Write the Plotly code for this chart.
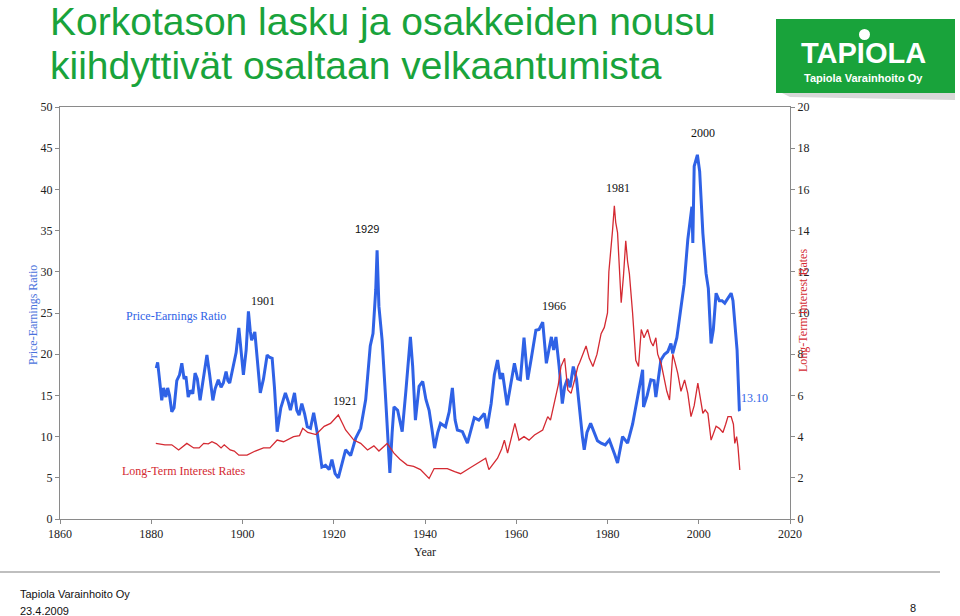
import plotly.graph_objects as go

# ---------------- data ----------------
PE_YEARS = [1881.1, 1881.4, 1881.8, 1882.3, 1882.7, 1883.2, 1883.6, 1884.0, 1884.5, 1885.0,
            1885.6, 1886.2, 1886.7, 1887.2, 1887.6, 1888.1, 1888.6, 1889.1, 1889.6, 1890.1,
            1890.7, 1891.2, 1891.7, 1892.2, 1892.8, 1893.5, 1894.0, 1894.7, 1895.3, 1895.8,
            1896.4, 1896.8, 1897.2, 1898.0, 1898.6, 1899.2, 1899.6, 1900.2, 1900.8, 1901.3,
            1901.7, 1902.0, 1902.7, 1903.3, 1903.9, 1904.6, 1905.4, 1906.0, 1906.5, 1907.0,
            1907.6, 1908.4, 1909.4, 1910.0, 1910.5, 1911.4, 1911.9, 1912.4, 1913.0, 1913.6,
            1914.2, 1914.9, 1915.6, 1916.4, 1917.0, 1917.4, 1918.2, 1919.0, 1919.6, 1920.3,
            1921.0, 1921.8, 1922.6, 1923.7, 1924.8, 1925.9, 1927.0, 1928.0, 1928.6, 1929.2,
            1929.5, 1929.9, 1930.6, 1931.3, 1931.8, 1932.3, 1932.8, 1933.2, 1934.0, 1935.0,
            1935.8, 1936.8, 1937.3, 1937.9, 1938.7, 1939.5, 1940.2, 1940.9, 1941.5, 1942.1,
            1942.8, 1943.4, 1944.5, 1945.3, 1946.0, 1946.6, 1947.1, 1948.2, 1949.3, 1950.0,
            1950.8, 1951.8, 1953.0, 1953.6, 1954.5, 1955.2, 1955.9, 1956.5, 1957.0, 1958.0,
            1958.8, 1959.6, 1960.3, 1960.9, 1961.7, 1962.5, 1963.3, 1964.3, 1965.0, 1965.8,
            1966.6, 1967.2, 1967.7, 1968.2, 1968.7, 1969.4, 1970.1, 1970.6, 1971.2, 1971.8,
            1972.5, 1973.2, 1973.8, 1974.5, 1974.9, 1975.5, 1976.3, 1977.0, 1977.8, 1978.6,
            1979.5, 1980.4, 1981.0, 1981.6, 1982.2, 1982.8, 1983.3, 1984.4, 1985.5, 1986.6,
            1987.3, 1987.7, 1987.9, 1988.7, 1989.5, 1990.2, 1990.6, 1991.2, 1991.7, 1992.5,
            1993.2, 1993.9, 1994.3, 1995.2, 1996.1, 1996.8, 1997.6, 1998.0, 1998.5, 1998.7,
            1999.0, 1999.7, 2000.2, 2000.9, 2001.6, 2002.1, 2002.7, 2003.2, 2003.8, 2004.5,
            2005.1, 2005.7, 2006.4, 2007.1, 2007.5, 2007.9, 2008.4, 2008.9, 2009.0]
PE_VALUES = [18.3, 19.0, 17.0, 14.4, 15.9, 14.8, 15.9, 15.0, 13.0, 13.5,
             16.8, 17.5, 18.9, 17.0, 17.3, 14.8, 15.6, 15.2, 17.7, 17.0,
             14.4, 16.2, 18.5, 19.9, 17.5, 14.4, 15.8, 16.9, 16.0, 16.5,
             17.9, 16.8, 16.5, 18.5, 20.2, 23.2, 21.0, 17.5, 20.5, 25.2,
             22.8, 21.7, 22.7, 18.5, 15.3, 17.0, 19.9, 19.6, 19.5, 16.0,
             10.6, 13.5, 15.3, 14.3, 13.2, 15.3, 13.2, 12.6, 14.0, 12.8,
             11.2, 11.0, 12.9, 10.4, 8.0, 6.3, 6.5, 6.0, 7.2, 5.5,
             5.0, 6.8, 8.4, 7.7, 9.8, 11.0, 14.5, 21.0, 22.5, 27.8,
             32.6, 25.8, 21.7, 15.3, 10.0, 5.6, 10.5, 13.6, 13.2, 10.6,
             15.5, 22.1, 18.5, 12.0, 16.1, 16.7, 14.5, 13.2, 11.0, 8.6,
             10.5, 11.6, 11.2, 13.0, 15.9, 12.0, 10.8, 10.6, 9.2, 10.6,
             12.3, 12.0, 12.8, 11.0, 14.0, 17.5, 19.3, 17.0, 17.7, 13.8,
             16.5, 18.9, 17.0, 16.9, 22.0, 16.9, 19.5, 22.9, 23.0, 23.9,
             18.9, 20.5, 22.1, 20.5, 22.1, 18.5, 14.0, 16.0, 17.0, 16.0,
             18.5, 17.0, 13.5, 10.0, 8.4, 10.5, 11.6, 10.5, 9.5, 9.2,
             9.0, 9.6, 8.8, 7.8, 6.8, 8.5, 10.0, 9.2, 11.5, 14.8,
             17.0, 18.1, 13.6, 15.0, 16.9, 16.8, 14.8, 17.0, 19.3, 20.0,
             20.3, 21.3, 20.1, 22.0, 25.8, 28.5, 33.9, 35.5, 37.9, 33.5,
             42.8, 44.2, 42.2, 34.7, 29.8, 28.0, 21.3, 23.0, 27.4, 26.5,
             26.5, 26.2, 26.8, 27.4, 26.5, 23.8, 20.5, 13.2, 13.1]

RATE_YEARS = [1881.0, 1883.0, 1884.5, 1886.0, 1887.8, 1889.3, 1890.5, 1891.5, 1892.5, 1893.3,
              1894.3, 1895.3, 1896.0, 1897.3, 1898.2, 1899.2, 1901.0, 1902.8, 1904.6, 1906.0,
              1907.6, 1909.0, 1911.2, 1912.5, 1913.2, 1914.3, 1916.1, 1917.9, 1919.3, 1920.5,
              1921.0, 1922.0, 1922.6, 1924.4, 1925.9, 1927.4, 1928.8, 1929.9, 1931.7, 1933.2,
              1934.5, 1936.1, 1937.5, 1939.0, 1940.9, 1942.0, 1944.9, 1946.5, 1947.8, 1950.0,
              1951.5, 1953.3, 1954.0, 1955.9, 1956.8, 1957.4, 1958.1, 1959.0, 1959.7, 1960.6,
              1961.7, 1962.8, 1964.0, 1965.8, 1966.9, 1967.5, 1968.4, 1969.2, 1969.8, 1970.6,
              1971.3, 1972.0, 1972.8, 1973.5, 1973.9, 1974.6, 1975.3, 1976.0, 1976.8, 1977.7,
              1978.6, 1979.3, 1980.0, 1980.3, 1980.6, 1981.1, 1981.5, 1981.8, 1982.2, 1982.6,
              1983.0, 1983.5, 1984.0, 1984.4, 1984.8, 1985.5, 1986.2, 1986.8, 1987.4, 1988.0,
              1988.8, 1989.5, 1990.0, 1990.6, 1991.0, 1991.8, 1992.5, 1993.0, 1993.6, 1994.3,
              1994.8, 1995.4, 1996.1, 1996.9, 1997.6, 1998.3, 1999.0, 1999.8, 2000.4, 2000.9,
              2001.4, 2002.0, 2002.7, 2003.3, 2003.8, 2004.5, 2005.3, 2005.9, 2006.4, 2007.1,
              2007.6, 2007.9, 2008.3, 2008.6, 2009.0]
RATE_VALUES = [3.67, 3.6, 3.6, 3.35, 3.67, 3.45, 3.45, 3.67, 3.65, 3.75,
               3.65, 3.45, 3.6, 3.35, 3.3, 3.1, 3.1, 3.3, 3.45, 3.45,
               3.83, 3.75, 4.0, 4.05, 4.4, 4.2, 4.1, 4.5, 4.64, 4.9,
               5.05, 4.6, 4.32, 3.83, 3.67, 3.35, 3.55, 3.3, 3.67, 3.2,
               2.9, 2.62, 2.55, 2.4, 1.97, 2.45, 2.45, 2.3, 2.2, 2.5,
               2.7, 2.95, 2.4, 2.95, 3.4, 3.83, 3.2, 4.0, 4.64, 3.83,
               4.0, 3.83, 4.08, 4.32, 4.97, 4.8, 5.78, 6.5, 7.4, 7.8,
               6.26, 6.1, 6.75, 7.4, 7.6, 8.0, 8.4, 7.8, 7.4, 8.0,
               9.0, 9.3, 10.0, 12.0, 12.7, 14.0, 15.2, 14.4, 13.9, 12.0,
               10.5, 11.8, 13.5, 12.5, 11.9, 10.0, 7.7, 7.4, 9.2, 8.8,
               9.2, 8.6, 8.4, 8.8, 8.0, 7.5, 6.75, 6.2, 5.78, 8.0,
               7.6, 7.07, 6.2, 6.75, 6.1, 4.97, 5.5, 6.6, 5.8, 5.13,
               5.3, 5.13, 3.83, 4.2, 4.5, 4.4, 4.2, 4.6, 4.97, 4.97,
               4.6, 3.67, 4.0, 3.5, 2.38]

X_TICKS = [1860, 1880, 1900, 1920, 1940, 1960, 1980, 2000, 2020]
PE_TICKS = [0, 5, 10, 15, 20, 25, 30, 35, 40, 45, 50]
RATE_TICKS = [0, 2, 4, 6, 8, 10, 12, 14, 16, 18, 20]

# (label, year, pe-value)
LABELS = [("1901", 1904.5, 26.5), ("1921", 1922.5, 14.3), ("1966", 1968.3, 25.8),
          ("1981", 1982.3, 40.2), ("2000", 2001.0, 46.8)]

# ---------------- layout geometry ----------------
W, H = 960, 616
L, R, T, B = 60, 790, 107, 519


def px(x):
    return (x - L) / (R - L)


def py(y):
    return (B - y) / (B - T)


BLUE = "#2f62e6"
RED = "#d42a32"
GREEN = "#19a33b"
SERIF = "Liberation Serif, Times New Roman, serif"
SANS = "Liberation Sans, Arial, sans-serif"

fig = go.Figure()
fig.add_trace(go.Scatter(x=RATE_YEARS, y=RATE_VALUES, mode="lines", yaxis="y2",
                         line=dict(color=RED, width=1.3), showlegend=False))
fig.add_trace(go.Scatter(x=PE_YEARS, y=PE_VALUES, mode="lines",
                         line=dict(color=BLUE, width=3), showlegend=False))


def note(x, y, text, font, ref="paper", xanchor="center", angle=0):
    return dict(x=x, y=y, xref="x" if ref == "data" else "paper",
                yref="y" if ref == "data" else "paper", text=text, showarrow=False,
                xanchor=xanchor, yanchor="middle", textangle=angle, font=font)


ann = []
for t, xx, yy in LABELS:
    ann.append(note(xx, yy, t, dict(family=SERIF, size=12, color="#111"), ref="data"))
ann.append(note(1927.3, 35.2, "1929", dict(family=SANS, size=11, color="#111"), ref="data"))
ann.append(note(2012.3, 14.7, "13.10", dict(family=SERIF, size=12, color=BLUE), ref="data"))
ann.append(note(1885.4, 24.6, "Price-Earnings Ratio", dict(family=SERIF, size=12, color=BLUE), ref="data"))
ann.append(note(1887.0, 5.8, "Long-Term Interest Rates", dict(family=SERIF, size=12, color=RED), ref="data"))
# axis titles
ann.append(note(px(33), py(315), "Price-Earnings Ratio",
                dict(family=SERIF, size=12, color="#4a72dc"), angle=-90))
ann.append(note(px(803), py(311), "Long-Term Interest Rates",
                dict(family=SERIF, size=12, color=RED), angle=-90))
ann.append(note(px(425), py(552), "Year", dict(family=SERIF, size=12, color="#222")))
# title
ann.append(note(px(48), py(21), "Korkotason lasku ja osakkeiden nousu",
                dict(family=SANS, size=39, color=GREEN), xanchor="left"))
ann.append(note(px(48), py(66), "kiihdyttivät osaltaan velkaantumista",
                dict(family=SANS, size=39, color=GREEN), xanchor="left"))
# logo text
ann.append(note(px(864), py(53), "<b>TAPIOLA</b>", dict(family=SANS, size=29, color="white")))
ann.append(note(px(864), py(78), "<b>Tapiola Varainhoito Oy</b>", dict(family=SANS, size=11, color="white")))
# footer
ann.append(note(px(18), py(594), "Tapiola Varainhoito Oy", dict(family=SANS, size=11, color="#111"),
                xanchor="left"))
ann.append(note(px(18), py(611), "23.4.2009", dict(family=SANS, size=11, color="#111"), xanchor="left"))
ann.append(note(px(913), py(608), "8", dict(family=SANS, size=11, color="#111")))

shapes = [
    # logo shadow
    dict(type="path", xref="paper", yref="paper", layer="below",
         path=f"M {px(782)} {py(93)} L {px(955)} {py(93)} L {px(955)} {py(100)} L {px(790)} {py(97)} Z",
         fillcolor="#d8d8d8", line=dict(width=0)),
    dict(type="rect", xref="paper", yref="paper", x0=px(776), x1=px(955), y0=py(93), y1=py(19),
         fillcolor=GREEN, line=dict(width=0)),
    dict(type="circle", xref="paper", yref="paper", x0=px(859), x1=px(870), y0=py(40), y1=py(29),
         fillcolor="white", line=dict(width=0)),
    dict(type="line", xref="paper", yref="paper", x0=px(0), x1=px(940), y0=py(572), y1=py(572),
         line=dict(color="#aaaaaa", width=1.5)),
]

axis_common = dict(showgrid=False, zeroline=False, showline=True, linecolor="#8a8a8a",
                   linewidth=1, ticks="outside", ticklen=4, tickcolor="#8a8a8a",
                   tickfont=dict(family=SERIF, size=12, color="#222"))

fig.update_layout(
    width=W, height=H,
    margin=dict(l=L, r=W - R, t=T, b=H - B, pad=0),
    paper_bgcolor="white", plot_bgcolor="white",
    xaxis=dict(range=[1860, 2020], tickvals=X_TICKS, mirror=True, **axis_common),
    yaxis=dict(range=[0, 50], tickvals=PE_TICKS, mirror=False, **axis_common),
    yaxis2=dict(range=[0, 20], tickvals=RATE_TICKS, overlaying="y", side="right", **axis_common),
    annotations=ann, shapes=shapes,
)

fig.write_html("out.html", config={"displayModeBar": False},
               post_script="document.body.style.margin='0px';")
